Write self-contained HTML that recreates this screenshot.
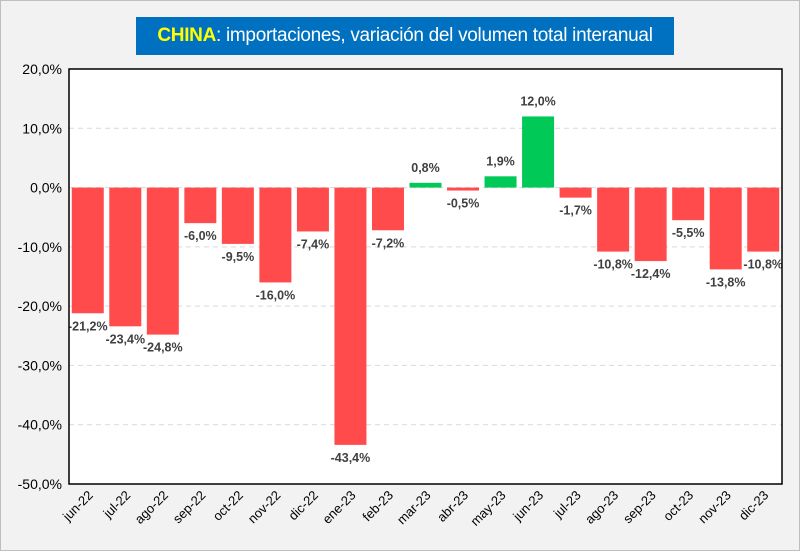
<!DOCTYPE html>
<html><head><meta charset="utf-8"><style>
body{margin:0;background:#fff}
#c{position:relative;width:800px;height:551px;background:#f2f2f2;box-sizing:border-box;border:1px solid #bfbfbf;font-family:"Liberation Sans",sans-serif}
#title{position:absolute;left:135px;top:16px;width:538px;height:38px;background:#0070c0;color:#fff;font-size:19px;line-height:38px;text-align:center;letter-spacing:-0.3px}
#title b{color:#ffff00}
</style></head><body>
<div id="c">
<div id="title"><b>CHINA</b>: importaciones, variación del volumen total interanual</div>
<svg id="s" width="800" height="551" style="position:absolute;left:0;top:0"></svg>
</div>
<script>
const categories=["jun-22","jul-22","ago-22","sep-22","oct-22","nov-22","dic-22","ene-23","feb-23","mar-23","abr-23","may-23","jun-23","jul-23","ago-23","sep-23","oct-23","nov-23","dic-23"];
const values=[-21.2,-23.4,-24.8,-6.0,-9.5,-16.0,-7.4,-43.4,-7.2,0.8,-0.5,1.9,12.0,-1.7,-10.8,-12.4,-5.5,-13.8,-10.8];
const yTicks=[20,10,0,-10,-20,-30,-40,-50];
const ns="http://www.w3.org/2000/svg",s=document.getElementById('s');
const L=68,R=781,T=68,B=483,yMax=20,yMin=-50;
const y=v=>T+(yMax-v)/(yMax-yMin)*(B-T);
const step=(R-L)/categories.length,x=i=>L+step*(i+0.5),bw=32;
function el(t,a){const e=document.createElementNS(ns,t);for(const k in a)e.setAttribute(k,a[k]);s.appendChild(e);return e;}
const fmt=v=>v.toFixed(1).replace('.',',')+'%';
const bg=el('rect',{x:L,y:T,width:R-L,height:B-T,fill:'#fff'});

yTicks.forEach(t=>{
 if(t!==yMax&&t!==yMin){const g=el('line',{x1:L,x2:R,y1:y(t),y2:y(t),stroke:'#d9d9d9','stroke-dasharray':'5,4'});
 }
 const tx=el('text',{x:L-7,y:y(t)+5,'text-anchor':'end','font-size':'14',fill:'#000'});tx.textContent=fmt(t);
 
});
values.forEach((v,i)=>{
 const y0=y(0),yv=y(v);
 const r=el('rect',{x:x(i)-bw/2,y:Math.min(y0,yv),width:bw,height:Math.abs(yv-y0),fill:v>=0?'#00c957':'#ff4b4b'});
 
 const ly=v>=0?yv-11:yv+17;
 const lt=el('text',{x:x(i),y:ly,'text-anchor':'middle','font-size':'12.5','font-weight':'bold',fill:'#404040'});lt.textContent=fmt(v);
 
 const ct=el('text',{x:x(i)+6,y:B+12,'text-anchor':'end','font-size':'13',fill:'#000',transform:`rotate(-45 ${x(i)+6} ${B+12})`});ct.textContent=categories[i];
 
});
const fr=el('rect',{x:L,y:T,width:R-L,height:B-T,fill:'none',stroke:'#000','stroke-width':'1.5'});

</script>
</body></html>
